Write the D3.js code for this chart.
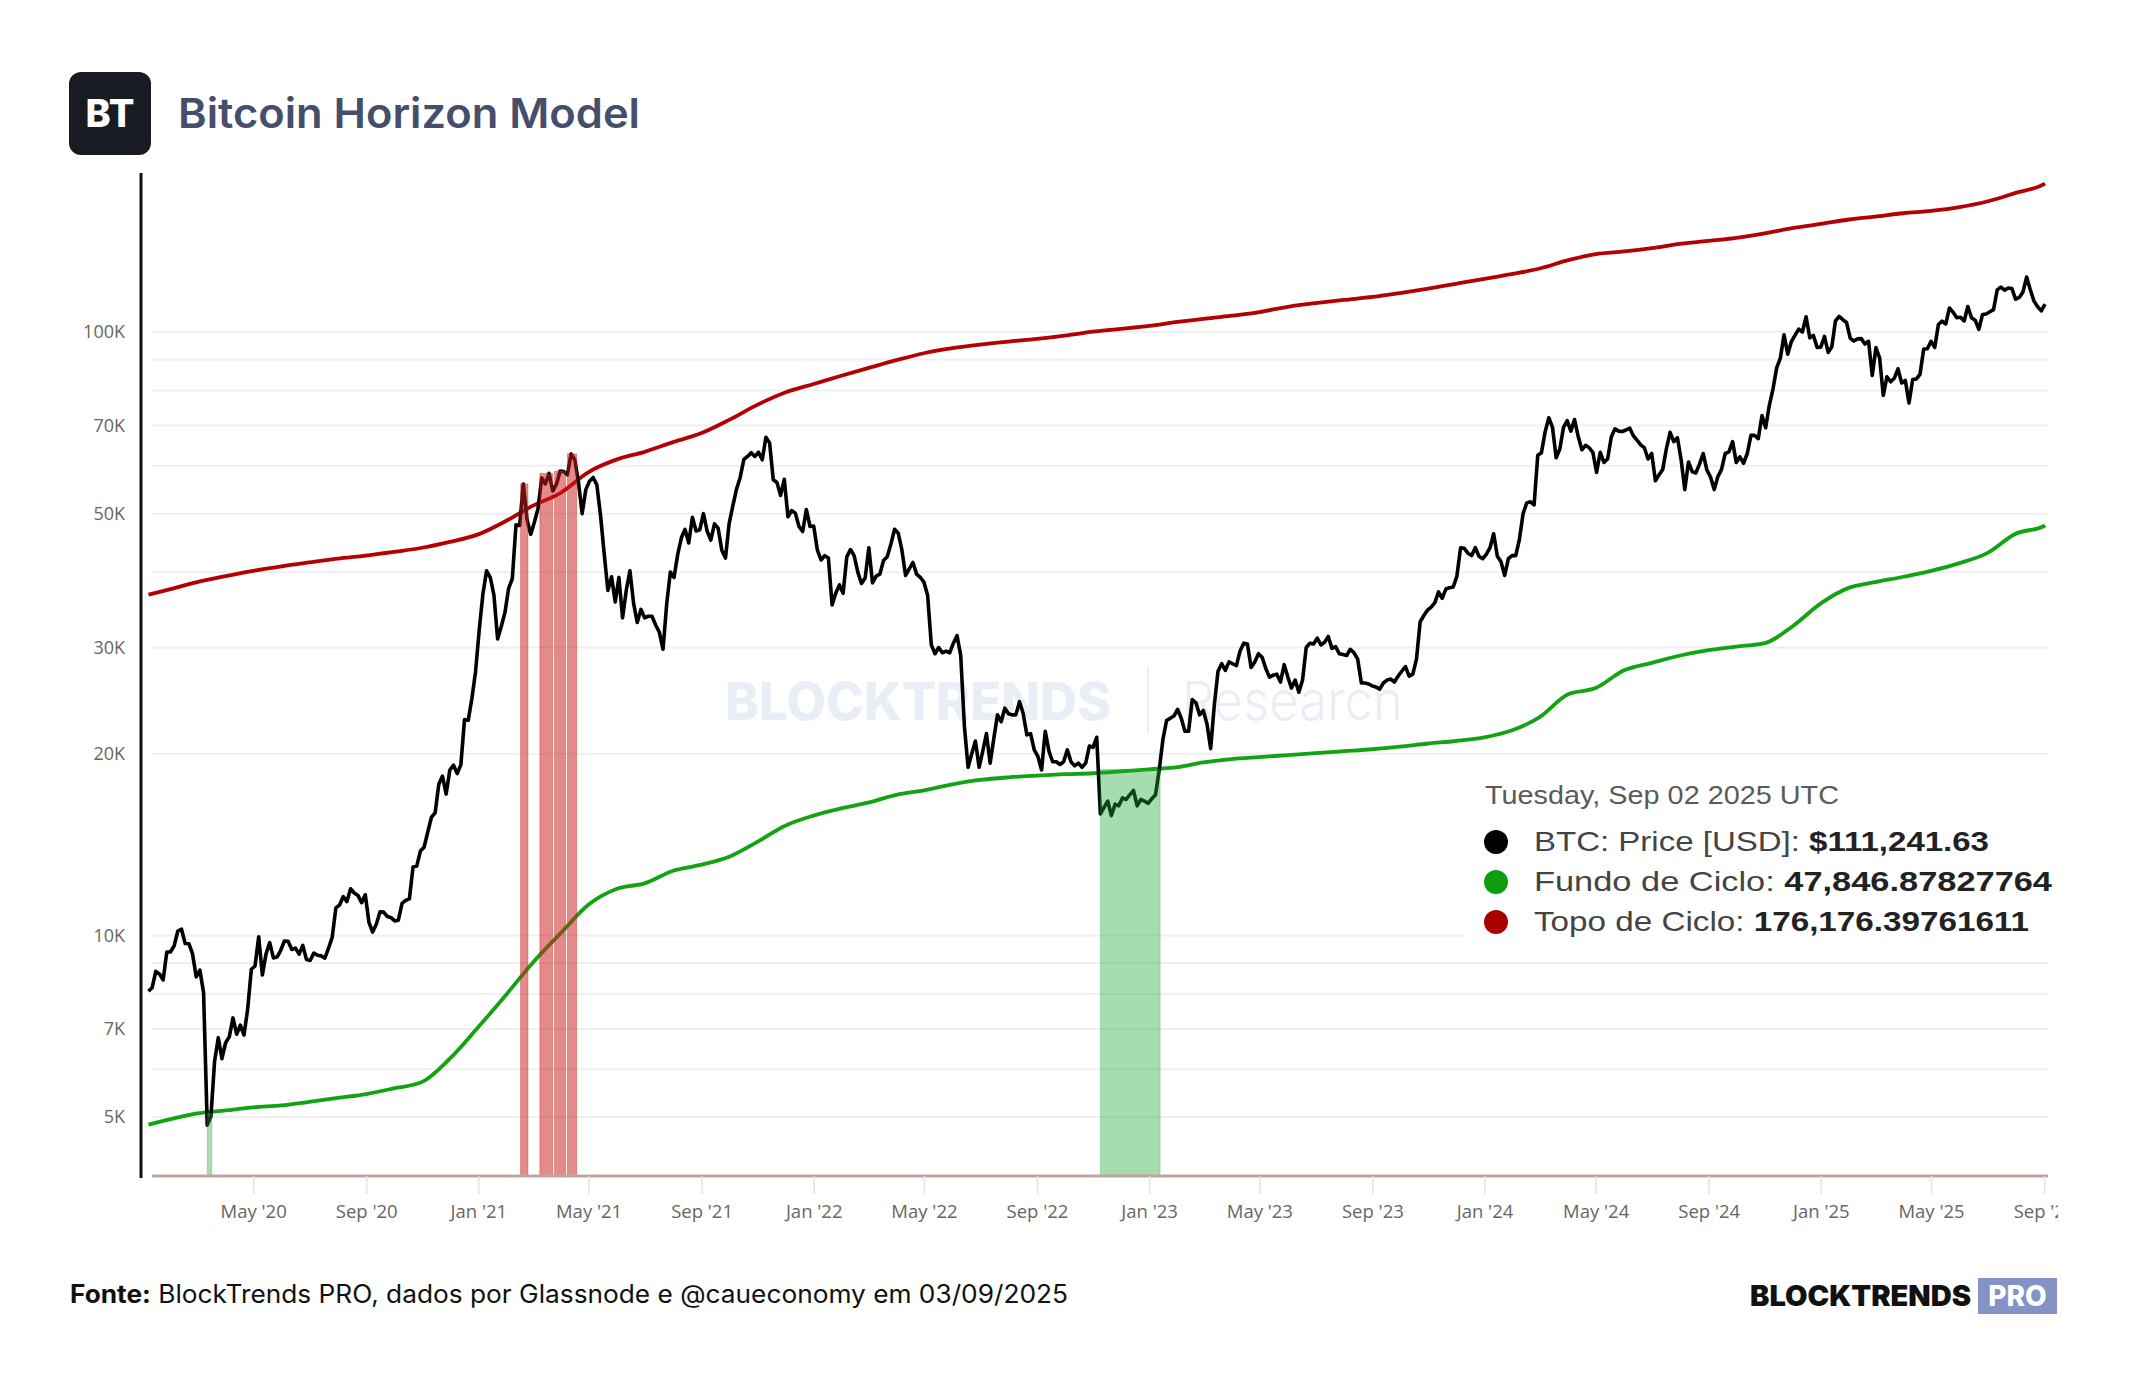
<!DOCTYPE html>
<html>
<head>
<meta charset="utf-8">
<script src="https://cdn.jsdelivr.net/npm/d3@7"></script>
<style>
  body { margin: 0; background: #fff; }
  svg { display: block; }
</style>
</head>
<body>
<svg id="chart" width="2144" height="1400"></svg>
<script>
// ---------- data ----------
// BTC price, one value every 4 days starting 2020-01-08 (rows = months)
var priceStart = "2020-01-08";
var priceValues = [
  8080, 8190, 8720, 8630, 8440, 9390,
  9390, 9610, 10170, 10240, 9700, 9690, 9320, 8540,
  8760, 8040, 4850, 5010, 6190, 6770, 6250,
  6640, 6790, 7300, 6860, 7100, 6840, 7550, 8790,
  8900, 9950, 8600, 9320, 9730, 9180, 9210, 9450,
  9790, 9780, 9480, 9530, 9310, 9630, 9120,
  9090, 9350, 9270, 9250, 9170, 9530, 9930, 11110,
  11230, 11600, 11380, 11950, 11760, 11650, 11330, 11680,
  10510, 10130, 10440, 10940, 10930, 10750, 10700,
  10570, 10600, 11300, 11430, 11500, 12990, 13030, 13800,
  14000, 14840, 15700, 15960, 17800, 18370, 17150,
  18800, 19150, 18550, 19170, 22800, 22720, 24700, 27360,
  // 2021
  32100, 36800, 40200, 39190, 36630, 31000, 32500, 34300,
  37600, 39000, 47900, 47800, 56000, 48900, 46200,
  48400, 51000, 57300, 56000, 58300, 54500, 55900, 58800,
  58700, 58000, 62800, 61400, 56300, 50000, 54800,
  56600, 57400, 55800, 49700, 42900, 37300, 39300, 35700,
  39200, 33600, 37300, 40200, 35500, 33000, 34700,
  33600, 33800, 33800, 32700, 31800, 29800, 35400, 40000,
  39200, 42800, 45600, 47100, 44700, 49300, 46800, 47000,
  50000, 46800, 45200, 48100, 47300, 43500, 42200,
  48200, 51500, 54900, 57400, 61500, 62200, 63100, 62200,
  63200, 61400, 66900, 65500, 56900, 56300, 53600, 57000,
  49400, 50600, 50100, 47600, 46700, 50800, 47600,
  // 2022
  47700, 43500, 41900, 42600, 42200, 35300, 36900, 38100,
  36900, 42400, 43600, 42600, 40000, 38300, 39100,
  43900, 38400, 39400, 39700, 41800, 42400, 44500, 47100,
  46400, 43500, 39500, 40500, 41500, 39700, 39200,
  38500, 36600, 30300, 29300, 30000, 29400, 29600, 29400,
  30500, 31400, 29100, 22200, 19000, 20000, 21000, 19000,
  20200, 21600, 19300, 21200, 23200, 22600, 23800,
  23300, 23200, 23200, 24400, 23300, 21500, 21600, 20300,
  19800, 18800, 21800, 20200, 19400, 19400, 19200, 19400,
  20300, 19400, 19100, 19300, 19000, 19300, 20600,
  20500, 21300, 15900, 16300, 16700, 15800, 16500, 16400,
  16900, 16800, 17100, 17400, 16400, 16800, 16700, 16550,
  // 2023
  16850, 17100, 18800, 21100, 22700, 22900, 23100,
  23700, 22900, 21800, 21800, 24600, 24300, 23200,
  23600, 22400, 20400, 24100, 27400, 28200, 27500, 28400,
  28200, 28000, 29600, 30500, 30400, 27800, 28400, 29300,
  28900, 27700, 26800, 27000, 27100, 26300, 28100,
  26800, 25700, 26500, 25300, 26500, 30000, 30500, 30400,
  31100, 30300, 30600, 31300, 29900, 30100, 29300, 29200,
  29100, 29800, 29400, 28700, 26200, 26200, 26100,
  25900, 25800, 25600, 26200, 26500, 26600, 26300, 26900,
  27400, 27900, 26900, 27100, 28700, 33100, 33900, 34600,
  35000, 35600, 37100, 36200, 37500, 37700, 37800,
  39400, 43900, 43800, 43000, 42600, 43900, 42500, 42100,
  // 2024
  42800, 43900, 46300, 42500, 41600, 39500, 42100, 42600,
  42600, 45300, 50000, 52100, 52300, 51700, 62500,
  63100, 68300, 72100, 69500, 61900, 64000, 69500, 71300,
  68500, 71600, 67100, 63800, 64900, 64300, 63100,
  58500, 63200, 60800, 61600, 67000, 69100, 68500, 68400,
  68800, 69300, 67300, 66200, 65000, 64300, 61600,
  62900, 56700, 58000, 59200, 64100, 68200, 65800, 66800,
  61400, 54800, 60900, 58700, 58400, 60400, 62900, 59100,
  57500, 54800, 57600, 59200, 62900, 63300, 65800,
  60800, 62100, 60600, 62900, 67400, 67400, 66600, 72700,
  69400, 75600, 80500, 87200, 90500, 98900, 91900, 96400,
  98800, 101100, 100000, 106000, 97800, 98700, 94300,
  // 2025
  94400, 98300, 92500, 94500, 104400, 106100, 104800, 103700,
  97700, 96600, 97400, 97500, 95500, 96500, 84700,
  94200, 90600, 78500, 84300, 82700, 83800, 86900, 82300,
  83100, 76300, 83400, 83600, 85100, 93700, 93800,
  96500, 94300, 102900, 104200, 103100, 109600, 107800, 105600,
  105800, 104300, 110200, 105600, 104600, 101000, 106900, 107100,
  108000, 108900, 117400, 118700, 117300, 118300, 118000,
  113300, 114100, 116500, 123300, 117500, 112500, 110100, 108400,
  111241.63
];

// model lines: 2020-01-08, then the 1st of every month Feb 2020 .. Sep 2025, then 2025-09-02
var modelFirst = "2020-01-08";
var modelLast = "2025-09-02";
var fundoValues = [
  4860,
  4960, 5070, 5130, 5190, 5230, 5300, 5380, 5460, 5580, 5720, 6250,
  7050, 8000, 9000, 10100, 11250, 11950, 12200, 12800, 13100, 13500, 14300, 15200,
  15800, 16250, 16600, 17100, 17400, 17800, 18100, 18280, 18400, 18500, 18570, 18700,
  18850, 19000, 19350, 19600, 19750, 19900, 20050, 20200, 20350, 20550, 20800, 21000,
  21300, 21900, 23000, 25100, 25700, 27500, 28300, 29100, 29700, 30100, 30500, 32500,
  35500, 37700, 38500, 39300, 40200, 41400, 43000, 46300, 47700,
  47846.88
];
var topoValues = [
  36700,
  37500, 38500, 39400, 40200, 40900, 41500, 42100, 42600, 43200, 43900, 44900,
  46200, 48700, 51500, 54200, 58600, 61500, 63300, 65700, 68000, 71500, 75800, 79400,
  82000, 84700, 87100, 89800, 92200, 94000, 95300, 96400, 97400, 98600, 100100, 101200,
  102400, 103900, 105100, 106400, 107900, 110100, 111600, 113000, 114300, 116000, 118000, 120200,
  122500, 124800, 127400, 131500, 134600, 136000, 137700, 139900, 141600, 143200, 145700, 148600,
  151000, 153600, 155300, 157300, 158700, 161000, 164500, 170000, 175800,
  176176.40
];

// periods where price crossed the model bands
var redBandStarts = ["2021-02-16", "2021-03-09", "2021-03-25", "2021-04-08"];
var redBandEnds   = ["2021-02-24", "2021-03-23", "2021-04-06", "2021-04-18"];
var greenBandStarts = ["2020-03-12", "2022-11-09"];
var greenBandEnds   = ["2020-03-17", "2023-01-13"];

var gridValues = [5000, 6000, 7000, 8000, 9000, 10000, 20000, 30000, 40000, 50000, 60000, 70000, 80000, 90000, 100000];
var yTickValues = [5000, 7000, 10000, 20000, 30000, 50000, 70000, 100000];
var yTickLabels = ["5K", "7K", "10K", "20K", "30K", "50K", "70K", "100K"];

var legendNames = ["BTC: Price [USD]: ", "Fundo de Ciclo: ", "Topo de Ciclo: "];
var legendValues = ["$111,241.63", "47,846.87827764", "176,176.39761611"];
var legendColors = ["#000000", "#0f9d0f", "#a80000"];

// ---------- setup ----------
var parse = d3.utcParse("%Y-%m-%d");
var svg = d3.select("#chart");

var priceData = priceValues.map(function(v, i) {
  return { date: d3.utcDay.offset(parse(priceStart), 4 * i), value: v };
});
var modelDates = [parse(modelFirst)]
  .concat(d3.utcMonth.range(parse("2020-02-01"), parse("2025-09-02")))
  .concat([parse(modelLast)]);
var fundoData = fundoValues.map(function(v, i) { return { date: modelDates[i], value: v }; });
var topoData = topoValues.map(function(v, i) { return { date: modelDates[i], value: v }; });

var x = d3.scaleUtc()
  .domain([parse("2020-01-01"), parse("2025-09-02")])
  .range([142, 2045]);
var y = d3.scaleLog()
  .domain([4000, 183000])
  .range([1175.6, 173.6]);

var plotLeft = 152, plotRight = 2048, plotBottom = 1176;

// ---------- header ----------
svg.append("rect")
  .attr("x", 69).attr("y", 72).attr("width", 82).attr("height", 83)
  .attr("rx", 12).attr("fill", "#181b22");
svg.append("text")
  .attr("x", 110).attr("y", 127)
  .attr("text-anchor", "middle")
  .style("font-family", "Inter, 'Noto Sans', sans-serif")
  .style("font-weight", 800)
  .style("font-size", "38px")
  .style("fill", "#ffffff")
  .text("BT");
svg.append("text")
  .attr("x", 178).attr("y", 128)
  .attr("textLength", 462).attr("lengthAdjust", "spacingAndGlyphs")
  .style("font-family", "Inter, 'Noto Sans', sans-serif")
  .style("font-weight", 600)
  .style("font-size", "41px")
  .style("fill", "#454e6b")
  .text("Bitcoin Horizon Model");

// ---------- grid ----------
svg.append("g").selectAll("line")
  .data(gridValues)
  .enter().append("line")
  .attr("x1", plotLeft).attr("x2", plotRight)
  .attr("y1", function(d) { return y(d); })
  .attr("y2", function(d) { return y(d); })
  .style("stroke", "#efefef")
  .style("stroke-width", 2);

// ---------- watermark ----------
var wm = svg.append("g").style("fill", "#e9eef6");
wm.append("text")
  .attr("x", 725).attr("y", 720)
  .attr("textLength", 386).attr("lengthAdjust", "spacingAndGlyphs")
  .style("font-family", "Inter, sans-serif")
  .style("font-weight", 800)
  .style("font-size", "52px")
  .text("BLOCKTRENDS");
wm.append("line")
  .attr("x1", 1148).attr("x2", 1148).attr("y1", 667).attr("y2", 733)
  .style("stroke", "#e9eef6").style("stroke-width", 2);
wm.append("text")
  .attr("x", 1182).attr("y", 720)
  .attr("textLength", 221).attr("lengthAdjust", "spacingAndGlyphs")
  .style("font-family", "Inter, sans-serif")
  .style("font-weight", 300)
  .style("font-size", "54px")
  .text("Research");

// ---------- lines ----------
var line = d3.line()
  .x(function(d) { return x(d.date); })
  .y(function(d) { return y(d.value); });
var smoothLine = d3.line()
  .curve(d3.curveMonotoneX)
  .x(function(d) { return x(d.date); })
  .y(function(d) { return y(d.value); });

svg.append("path").datum(fundoData)
  .attr("d", smoothLine)
  .style("fill", "none").style("stroke", "#12a312").style("stroke-width", 3.8)
  .style("stroke-linejoin", "round");
svg.append("path").datum(topoData)
  .attr("d", smoothLine)
  .style("fill", "none").style("stroke", "#b40000").style("stroke-width", 3.8)
  .style("stroke-linejoin", "round");
svg.append("path").datum(priceData)
  .attr("d", line)
  .style("fill", "none").style("stroke", "#000").style("stroke-width", 3.6)
  .style("stroke-linejoin", "round");

// ---------- bands (drawn over the lines, semi transparent) ----------
svg.append("g").selectAll("rect")
  .data(d3.zip(redBandStarts, redBandEnds))
  .enter().append("rect")
  .attr("x", function(d) { return x(parse(d[0])); })
  .attr("width", function(d) { return x(parse(d[1])) - x(parse(d[0])); })
  .each(function(d) {
    // band spans from the price spike down to the baseline
    var start = parse(d[0]), end = parse(d[1]);
    var top = d3.max(priceData.filter(function(p) { return p.date >= d3.utcDay.offset(start, -4) && p.date <= d3.utcDay.offset(end, 4); }), function(p) { return p.value; });
    d3.select(this).attr("y", y(top)).attr("height", plotBottom - y(top));
  })
  .style("fill", "rgba(206,31,31,0.52)")
  .style("stroke", "rgba(190,30,30,0.35)")
  .style("stroke-width", 1);

svg.append("g").selectAll("rect")
  .data(d3.zip(greenBandStarts, greenBandEnds))
  .enter().append("rect")
  .attr("x", function(d) { return x(parse(d[0])); })
  .attr("width", function(d) { return x(parse(d[1])) - x(parse(d[0])); })
  .each(function(d) {
    var end = parse(d[1]);
    var inside = fundoData.filter(function(p) { return p.date <= end; });
    var level = inside[inside.length - 1].value;
    d3.select(this).attr("y", y(level)).attr("height", plotBottom - y(level));
  })
  .style("fill", "rgba(35,165,57,0.4)")
  .style("stroke", "rgba(35,165,57,0.25)")
  .style("stroke-width", 1);

// ---------- axes ----------
svg.append("line")
  .attr("x1", plotLeft).attr("x2", plotRight)
  .attr("y1", plotBottom).attr("y2", plotBottom)
  .style("stroke", "#c2a69e").style("stroke-width", 3);

svg.append("line")
  .attr("x1", 141).attr("x2", 141)
  .attr("y1", 173).attr("y2", 1178)
  .style("stroke", "#111").style("stroke-width", 3);

var yAxis = d3.axisLeft(y)
  .tickValues(yTickValues)
  .tickFormat(function(d, i) { return yTickLabels[i]; })
  .tickSize(0)
  .tickPadding(3);
var gy = svg.append("g").attr("transform", "translate(128,0)").call(yAxis);
gy.select(".domain").remove();
gy.selectAll("text")
  .style("font-family", "'Open Sans', sans-serif")
  .style("font-size", "18px")
  .style("fill", "#666");

var xAxis = d3.axisBottom(x)
  .ticks(d3.utcMonth.every(4))
  .tickFormat(d3.utcFormat("%b '%y"))
  .tickSize(18)
  .tickPadding(11);
var gx = svg.append("g")
  .attr("transform", "translate(0," + plotBottom + ")")
  .attr("clip-path", "url(#xclipLocal)")
  .call(xAxis);
gx.select(".domain").remove();
gx.selectAll(".tick").filter(function(d) { return d < parse("2020-03-01"); }).remove();
gx.selectAll(".tick line").style("stroke", "#e3e3e3").style("stroke-width", 1.5);
gx.selectAll("text")
  .style("font-family", "'Open Sans', sans-serif")
  .style("font-size", "18.5px")
  .style("fill", "#666");
gx.append("clipPath").attr("id", "xclipLocal")
  .append("rect").attr("x", 0).attr("y", -2).attr("width", 2058).attr("height", 60);

// ---------- legend ----------
var lg = svg.append("g");
lg.append("rect")
  .attr("x", 1465).attr("y", 765).attr("width", 600).attr("height", 180)
  .style("fill", "#fff");
lg.append("text")
  .attr("x", 1485).attr("y", 804)
  .attr("textLength", 354).attr("lengthAdjust", "spacingAndGlyphs")
  .style("font-family", "'Liberation Sans', Arial, sans-serif")
  .style("font-size", "25px")
  .style("fill", "#5a5a5a")
  .text("Tuesday, Sep 02 2025 UTC");

var legendWidths = [455, 518, 495];
var rows = lg.selectAll("g.row")
  .data(legendNames)
  .enter().append("g").attr("class", "row");
rows.append("circle")
  .attr("cx", 1496)
  .attr("cy", function(d, i) { return 842 + i * 40; })
  .attr("r", 12)
  .style("fill", function(d, i) { return legendColors[i]; });
var rowText = rows.append("text")
  .attr("x", 1534)
  .attr("y", function(d, i) { return 851 + i * 40; })
  .attr("textLength", function(d, i) { return legendWidths[i]; })
  .attr("lengthAdjust", "spacingAndGlyphs")
  .style("font-family", "'Liberation Sans', Arial, sans-serif")
  .style("font-size", "28px");
rowText.append("tspan").style("fill", "#444").text(function(d) { return d; });
rowText.append("tspan").style("fill", "#222").style("font-weight", "bold")
  .text(function(d, i) { return legendValues[i]; });

// ---------- footer ----------
var ft = svg.append("text")
  .attr("x", 70).attr("y", 1303)
  .attr("textLength", 998).attr("lengthAdjust", "spacingAndGlyphs")
  .style("font-family", "Inter, sans-serif")
  .style("font-size", "25px")
  .style("fill", "#111");
ft.append("tspan").style("font-weight", 700).text("Fonte:");
ft.append("tspan").text(" BlockTrends PRO, dados por Glassnode e @caueconomy em 03/09/2025");

svg.append("text")
  .attr("x", 1750).attr("y", 1306)
  .attr("textLength", 221).attr("lengthAdjust", "spacingAndGlyphs")
  .style("font-family", "Inter, sans-serif")
  .style("font-weight", 900)
  .style("font-size", "28px")
  .style("fill", "#111")
  .text("BLOCKTRENDS");
svg.append("rect")
  .attr("x", 1978).attr("y", 1278).attr("width", 79).attr("height", 36)
  .style("fill", "#8592c6");
svg.append("text")
  .attr("x", 2017.5).attr("y", 1306)
  .attr("text-anchor", "middle")
  .style("font-family", "Inter, sans-serif")
  .style("font-weight", 800)
  .style("font-size", "28px")
  .style("fill", "#fff")
  .text("PRO");
</script>
</body>
</html>
